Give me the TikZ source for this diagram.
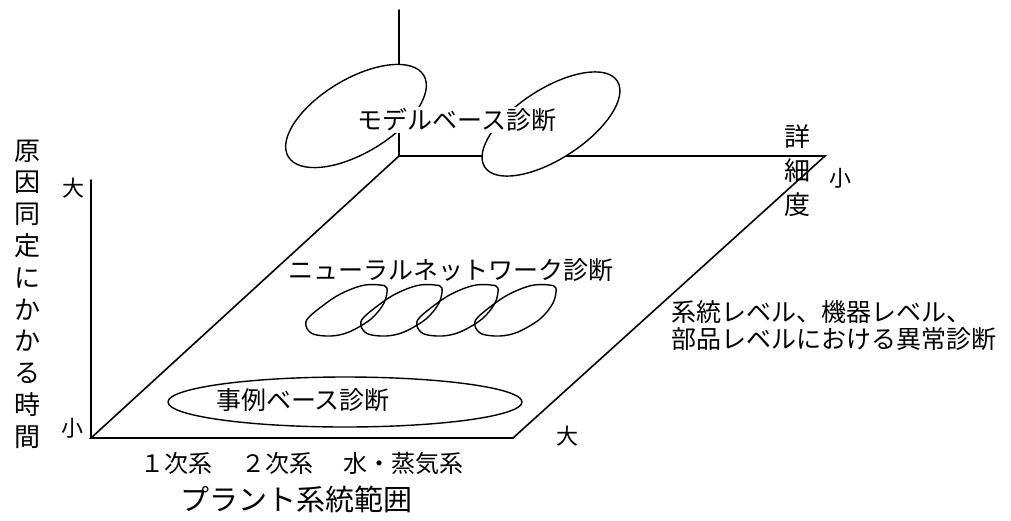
\documentclass[tikz,border=0pt]{standalone}
\usepackage{fontspec}
\newfontfamily\jp{Noto Sans CJK JP}
\usetikzlibrary{shapes.geometric}
\begin{document}
\begin{tikzpicture}[x=1pt,y=-1pt,
  axis/.style={line width=1.6pt, line cap=round, line join=miter},
  blob/.style={draw, ellipse, line width=1.4pt, inner sep=0pt},
  loopline/.style={line width=1.4pt},
  lbl/.style={inner sep=0pt, font=\jp\fontsize{25}{27}\selectfont},
  tick/.style={inner sep=0pt, font=\jp\fontsize{22}{22}\selectfont},
  vlbl/.style={inner sep=0pt, align=center}
]
\useasboundingbox (0,0) rectangle (1011,520);
% frame of the diagram
\coordinate (top) at (399,10);
\coordinate (B) at (399,156);
\coordinate (C) at (825,156);
\coordinate (D) at (513,438);
\coordinate (O) at (91,438);
\coordinate (Y) at (91,180);
\draw[axis] (top) -- (B);
\draw[axis] (B) -- (C) -- (D) -- (O) -- cycle;
\draw[axis] (Y) -- (O);
% model based ellipses (white filled, hide lines)
\node[blob, fill=white, minimum width=158pt, minimum height=74pt, rotate=31] (mb1) at (356,116) {};
\node[blob, fill=white, minimum width=158pt, minimum height=70pt, rotate=33] (mb2) at (551,124) {};
\node[lbl, fill=white, inner sep=1.5pt] (mbt) at (457,120) {モデルベース診断};
% neural network loops
\node[lbl] (nnt) at (451,270) {ニューラルネットワーク診断};
\foreach \cx in {345,400,456,514}{
  \draw[loopline, shift={(\cx,311)}] plot[smooth cycle, tension=0.55] coordinates
    {(42,-23) (39,-8) (26,8) (4,21) (-14,25) (-32,23) (-39,15) (-36,6) (-13,-12) (4,-21) (20,-26) (35,-26)};
}
% case based
\node[blob, minimum width=354pt, minimum height=50pt] (cb) at (345,402) {};
\node[lbl] (cbt) at (303,400) {事例ベース診断};
% right label
\node[lbl, align=left, anchor=west] (rt) at (671,326) {系統レベル、機器レベル、\\部品レベルにおける異常診断};
% axis ticks
\node[tick] (yl) at (73,188) {大};
\node[tick] (ys) at (72,428) {小};
\node[tick] (zl) at (840,178) {小};
\node[tick] (xl) at (567,436) {大};
% vertical labels
\node[vlbl, font=\jp\fontsize{26}{31.8}\selectfont] (vt) at (27,294) {原\\因\\同\\定\\に\\か\\か\\る\\時\\間};
\node[vlbl, font=\jp\fontsize{26}{34}\selectfont] (dt) at (797,171) {詳\\細\\度};
% bottom labels
\node[lbl, font=\jp\fontsize{24}{24}\selectfont] (s1) at (176,463) {１次系};
\node[lbl, font=\jp\fontsize{24}{24}\selectfont] (s2) at (277,463) {２次系};
\node[lbl, font=\jp\fontsize{24}{24}\selectfont] (s3) at (403,463) {水・蒸気系};
\node[lbl, font=\jp\fontsize{29}{29}\selectfont] (pt) at (296,499) {プラント系統範囲};
\end{tikzpicture}
\end{document}
